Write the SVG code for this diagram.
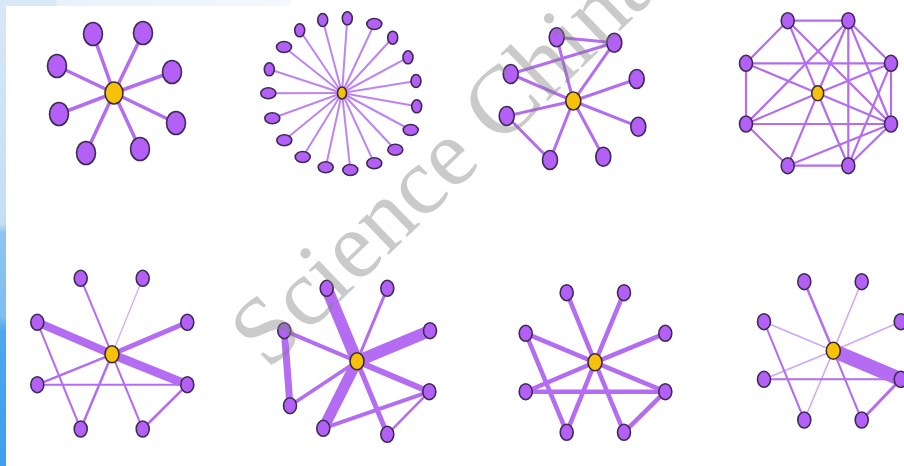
<svg xmlns="http://www.w3.org/2000/svg" width="904" height="466" viewBox="0 0 904 466">
<defs>
<linearGradient id="side" x1="0" y1="0" x2="0" y2="1">
<stop offset="0" stop-color="#d6e8f8"/>
<stop offset="0.48" stop-color="#c4def6"/>
<stop offset="0.5" stop-color="#8cc4f3"/>
<stop offset="0.68" stop-color="#7fbdf2"/>
<stop offset="0.71" stop-color="#4ca7ee"/>
<stop offset="1" stop-color="#3f9fec"/>
</linearGradient>
<linearGradient id="top" x1="0" y1="0" x2="1" y2="0">
<stop offset="0" stop-color="#d8e8f7"/>
<stop offset="0.19" stop-color="#d8e8f7"/>
<stop offset="0.2" stop-color="#e9f2fb"/>
<stop offset="1" stop-color="#f4f8fd"/>
</linearGradient>
</defs>
<style>
.e{stroke:#b36cf2;stroke-linecap:butt;fill:none}
.l{stroke:#cfa6f6}
.n{fill:#b45ff5;stroke:#3c2b52;stroke-width:1.6}
.c{fill:#f7c10a;stroke:#3c2b30;stroke-width:1.6}
.w1{stroke-width:3.5}.w2{stroke-width:2}.w3{stroke-width:4.5}
.wm{font-family:"Liberation Serif","Times New Roman",serif;font-size:96px;fill:#808080;fill-opacity:0.42}
</style>
<rect width="904" height="466" fill="#ffffff"/>
<rect x="0" y="0" width="290" height="6" fill="url(#top)"/>
<rect x="0" y="0" width="6" height="466" fill="url(#side)"/>

<!-- Graph 1 -->
<g id="graph1">
<g id="g1-edges" class="e w1">
<line x1="114" y1="93" x2="93" y2="34"/><line x1="114" y1="93" x2="143" y2="33"/>
<line x1="114" y1="93" x2="57" y2="66"/><line x1="114" y1="93" x2="172" y2="72"/>
<line x1="114" y1="93" x2="59" y2="114"/><line x1="114" y1="93" x2="176" y2="123"/>
<line x1="114" y1="93" x2="86" y2="153"/><line x1="114" y1="93" x2="140" y2="149"/>
</g>
<g id="g1-n1"><ellipse class="n" cx="93" cy="34" rx="9.5" ry="11.5"/></g>
<g id="g1-n2"><ellipse class="n" cx="143" cy="33" rx="9.5" ry="11.5"/></g>
<g id="g1-n3"><ellipse class="n" cx="57" cy="66" rx="9.5" ry="11.5"/></g>
<g id="g1-n4"><ellipse class="n" cx="172" cy="72" rx="9.5" ry="11.5"/></g>
<g id="g1-n5"><ellipse class="n" cx="59" cy="114" rx="9.5" ry="11.5"/></g>
<g id="g1-n6"><ellipse class="n" cx="176" cy="123" rx="9.5" ry="11.5"/></g>
<g id="g1-n7"><ellipse class="n" cx="86" cy="153" rx="9.5" ry="11.5"/></g>
<g id="g1-n8"><ellipse class="n" cx="140" cy="149" rx="9.5" ry="11.5"/></g>
<g id="g1-center"><ellipse class="c" cx="114" cy="93" rx="9" ry="11"/></g>
</g>

<!-- Graph 2 -->
<g id="graph2">
<g id="g2-edges" class="e w2" style="stroke:#bd84f3">
<line x1="342" y1="93" x2="322.7" y2="20"/><line x1="342" y1="93" x2="347.3" y2="18.3"/>
<line x1="342" y1="93" x2="374.3" y2="24"/><line x1="342" y1="93" x2="392.7" y2="37.7"/>
<line x1="342" y1="93" x2="408" y2="57.3"/><line x1="342" y1="93" x2="416" y2="81"/>
<line x1="342" y1="93" x2="416.7" y2="106.3"/><line x1="342" y1="93" x2="410.7" y2="130"/>
<line x1="342" y1="93" x2="395.3" y2="149.7"/><line x1="342" y1="93" x2="374.3" y2="163.3"/>
<line x1="342" y1="93" x2="350.3" y2="170"/><line x1="342" y1="93" x2="325.7" y2="167.3"/>
<line x1="342" y1="93" x2="302.7" y2="157"/><line x1="342" y1="93" x2="284.3" y2="140.3"/>
<line x1="342" y1="93" x2="272.3" y2="118.3"/><line x1="342" y1="93" x2="268.3" y2="93.3"/>
<line x1="342" y1="93" x2="269.3" y2="69.3"/><line x1="342" y1="93" x2="284" y2="47"/>
<line x1="342" y1="93" x2="299.7" y2="30.3"/>
</g>
<g id="g2-n1"><ellipse class="n" cx="322.7" cy="20" rx="5" ry="6.5"/></g>
<g id="g2-n2"><ellipse class="n" cx="347.3" cy="18.3" rx="5" ry="6.5"/></g>
<g id="g2-n3"><ellipse class="n" cx="374.3" cy="24" rx="7.5" ry="5.5"/></g>
<g id="g2-n4"><ellipse class="n" cx="392.7" cy="37.7" rx="5" ry="6.5"/></g>
<g id="g2-n5"><ellipse class="n" cx="408" cy="57.3" rx="5" ry="6.5"/></g>
<g id="g2-n6"><ellipse class="n" cx="416" cy="81" rx="5" ry="6.5"/></g>
<g id="g2-n7"><ellipse class="n" cx="416.7" cy="106.3" rx="5" ry="6.5"/></g>
<g id="g2-n8"><ellipse class="n" cx="410.7" cy="130" rx="7.5" ry="5.5"/></g>
<g id="g2-n9"><ellipse class="n" cx="395.3" cy="149.7" rx="7.5" ry="5.5"/></g>
<g id="g2-n10"><ellipse class="n" cx="374.3" cy="163.3" rx="7.5" ry="5.5"/></g>
<g id="g2-n11"><ellipse class="n" cx="350.3" cy="170" rx="7.5" ry="5.5"/></g>
<g id="g2-n12"><ellipse class="n" cx="325.7" cy="167.3" rx="7.5" ry="5.5"/></g>
<g id="g2-n13"><ellipse class="n" cx="302.7" cy="157" rx="7.5" ry="5.5"/></g>
<g id="g2-n14"><ellipse class="n" cx="284.3" cy="140.3" rx="7.5" ry="5.5"/></g>
<g id="g2-n15"><ellipse class="n" cx="272.3" cy="118.3" rx="7.5" ry="5.5"/></g>
<g id="g2-n16"><ellipse class="n" cx="268.3" cy="93.3" rx="7.5" ry="5.5"/></g>
<g id="g2-n17"><ellipse class="n" cx="269.3" cy="69.3" rx="5" ry="6.5"/></g>
<g id="g2-n18"><ellipse class="n" cx="284" cy="47" rx="7.5" ry="5.5"/></g>
<g id="g2-n19"><ellipse class="n" cx="299.7" cy="30.3" rx="5" ry="6.5"/></g>
<g id="g2-center"><ellipse class="c" cx="342" cy="93" rx="4.5" ry="6"/></g>
</g>

<!-- Graph 3 -->
<g id="graph3">
<g id="g3-edges" class="e" style="stroke-width:3">
<line x1="573.3" y1="101" x2="556.7" y2="37.3"/><line x1="573.3" y1="101" x2="614.3" y2="42.7"/>
<line x1="573.3" y1="101" x2="510.7" y2="74"/><line x1="573.3" y1="101" x2="636.7" y2="79"/>
<line x1="573.3" y1="101" x2="506.7" y2="116"/><line x1="573.3" y1="101" x2="638.3" y2="126.7"/>
<line x1="573.3" y1="101" x2="550" y2="160"/><line x1="573.3" y1="101" x2="603.3" y2="156.7"/>
<line x1="556.7" y1="37.3" x2="614.3" y2="42.7"/><line x1="510.7" y1="74" x2="614.3" y2="42.7"/>
<line x1="506.7" y1="116" x2="550" y2="160"/>
</g>
<g id="g3-n1"><ellipse class="n" cx="556.7" cy="37.3" rx="7.5" ry="9.5"/></g>
<g id="g3-n2"><ellipse class="n" cx="614.3" cy="42.7" rx="7.5" ry="9.5"/></g>
<g id="g3-n3"><ellipse class="n" cx="510.7" cy="74" rx="7.5" ry="9.5"/></g>
<g id="g3-n4"><ellipse class="n" cx="636.7" cy="79" rx="7.5" ry="9.5"/></g>
<g id="g3-n5"><ellipse class="n" cx="506.7" cy="116" rx="7.5" ry="9.5"/></g>
<g id="g3-n6"><ellipse class="n" cx="638.3" cy="126.7" rx="7.5" ry="9.5"/></g>
<g id="g3-n7"><ellipse class="n" cx="550" cy="160" rx="7.5" ry="9.5"/></g>
<g id="g3-n8"><ellipse class="n" cx="603.3" cy="156.7" rx="7.5" ry="9.5"/></g>
<g id="g3-center"><ellipse class="c" cx="573.3" cy="101" rx="7.5" ry="9"/></g>
</g>

<!-- Graph 4 -->
<g id="graph4">
<g id="g4-edges" class="e" style="stroke-width:2.2">
<line x1="787.7" y1="20.7" x2="848.3" y2="20.7"/><line x1="787.7" y1="20.7" x2="746" y2="63.3"/>
<line x1="746" y1="63.3" x2="746" y2="124"/><line x1="746" y1="124" x2="787.7" y2="165.7"/>
<line x1="787.7" y1="165.7" x2="848.3" y2="165.7"/><line x1="848.3" y1="165.7" x2="891" y2="124"/>
<line x1="891" y1="124" x2="891" y2="63.3"/><line x1="891" y1="63.3" x2="848.3" y2="20.7"/>
<line x1="746" y1="63.3" x2="891" y2="63.3"/><line x1="746" y1="124" x2="891" y2="124"/>
<line x1="848.3" y1="20.7" x2="848.3" y2="165.7"/>
<line x1="817.7" y1="93.3" x2="787.7" y2="20.7"/><line x1="817.7" y1="93.3" x2="848.3" y2="20.7"/>
<line x1="817.7" y1="93.3" x2="746" y2="63.3"/><line x1="817.7" y1="93.3" x2="891" y2="63.3"/>
<line x1="817.7" y1="93.3" x2="746" y2="124"/><line x1="817.7" y1="93.3" x2="891" y2="124"/>
<line x1="817.7" y1="93.3" x2="787.7" y2="165.7"/><line x1="817.7" y1="93.3" x2="848.3" y2="165.7"/>
<line x1="787.7" y1="20.7" x2="891" y2="124"/><line x1="848.3" y1="20.7" x2="746" y2="124"/>
<line x1="848.3" y1="20.7" x2="891" y2="124"/><line x1="891" y1="63.3" x2="848.3" y2="165.7"/>
<line x1="891" y1="124" x2="787.7" y2="165.7"/>
</g>
<g id="g4-n1"><ellipse class="n" cx="787.7" cy="20.7" rx="6.5" ry="8"/></g>
<g id="g4-n2"><ellipse class="n" cx="848.3" cy="20.7" rx="6.5" ry="8"/></g>
<g id="g4-n3"><ellipse class="n" cx="746" cy="63.3" rx="6.5" ry="8"/></g>
<g id="g4-n4"><ellipse class="n" cx="891" cy="63.3" rx="6.5" ry="8"/></g>
<g id="g4-n5"><ellipse class="n" cx="746" cy="124" rx="6.5" ry="8"/></g>
<g id="g4-n6"><ellipse class="n" cx="891" cy="124" rx="6.5" ry="8"/></g>
<g id="g4-n7"><ellipse class="n" cx="787.7" cy="165.7" rx="6.5" ry="8"/></g>
<g id="g4-n8"><ellipse class="n" cx="848.3" cy="165.7" rx="6.5" ry="8"/></g>
<g id="g4-center"><ellipse class="c" cx="817.7" cy="93.3" rx="6" ry="7.5"/></g>
</g>

<!-- Graph 5 -->
<g id="graph5">
<g id="g5-edges" class="e">
<line x1="112" y1="354.3" x2="80.7" y2="278.3" style="stroke-width:2"/>
<line x1="112" y1="354.3" x2="142.7" y2="278.3" class="l" style="stroke-width:1.2"/>
<line x1="112" y1="354.3" x2="37.3" y2="322.3" style="stroke-width:8"/>
<line x1="112" y1="354.3" x2="187.3" y2="322.3" style="stroke-width:5"/>
<line x1="112" y1="354.3" x2="37.3" y2="384.7" style="stroke-width:2.5"/>
<line x1="112" y1="354.3" x2="187.3" y2="384.7" style="stroke-width:9"/>
<line x1="112" y1="354.3" x2="80.7" y2="429" style="stroke-width:2.5"/>
<line x1="112" y1="354.3" x2="142.7" y2="429" style="stroke-width:2"/>
<line x1="37.3" y1="322.3" x2="80.7" y2="429" style="stroke-width:2"/>
<line x1="37.3" y1="384.7" x2="187.3" y2="384.7" style="stroke-width:2"/>
<line x1="187.3" y1="384.7" x2="142.7" y2="429" style="stroke-width:2.5"/>
</g>
<g id="g5-n1"><ellipse class="n" cx="80.7" cy="278.3" rx="6.5" ry="8"/></g>
<g id="g5-n2"><ellipse class="n" cx="142.7" cy="278.3" rx="6.5" ry="8"/></g>
<g id="g5-n3"><ellipse class="n" cx="37.3" cy="322.3" rx="6.5" ry="8"/></g>
<g id="g5-n4"><ellipse class="n" cx="187.3" cy="322.3" rx="6.5" ry="8"/></g>
<g id="g5-n5"><ellipse class="n" cx="37.3" cy="384.7" rx="6.5" ry="8"/></g>
<g id="g5-n6"><ellipse class="n" cx="187.3" cy="384.7" rx="6.5" ry="8"/></g>
<g id="g5-n7"><ellipse class="n" cx="80.7" cy="429" rx="6.5" ry="8"/></g>
<g id="g5-n8"><ellipse class="n" cx="142.7" cy="429" rx="6.5" ry="8"/></g>
<g id="g5-center"><ellipse class="c" cx="112" cy="354.3" rx="7" ry="8.5"/></g>
</g>

<!-- Graph 6 -->
<g id="graph6">
<g id="g6-edges" class="e">
<line x1="357" y1="361.3" x2="326.7" y2="288.3" style="stroke-width:12"/>
<line x1="357" y1="361.3" x2="387.3" y2="288.3" style="stroke-width:3"/>
<line x1="357" y1="361.3" x2="284.3" y2="330.7" style="stroke-width:4"/>
<line x1="357" y1="361.3" x2="430" y2="330.7" style="stroke-width:12"/>
<line x1="357" y1="361.3" x2="290" y2="405.7" style="stroke-width:3.5"/>
<line x1="357" y1="361.3" x2="429.3" y2="391.7" style="stroke-width:6"/>
<line x1="357" y1="361.3" x2="323.3" y2="428.3" style="stroke-width:11"/>
<line x1="357" y1="361.3" x2="387.3" y2="434.3" style="stroke-width:5"/>
<line x1="284.3" y1="330.7" x2="290" y2="405.7" style="stroke-width:7"/>
<line x1="323.3" y1="428.3" x2="429.3" y2="391.7" style="stroke-width:4"/>
<line x1="387.3" y1="434.3" x2="429.3" y2="391.7" style="stroke-width:2.5"/>
</g>
<g id="g6-n1"><ellipse class="n" cx="326.7" cy="288.3" rx="6.5" ry="8"/></g>
<g id="g6-n2"><ellipse class="n" cx="387.3" cy="288.3" rx="6.5" ry="8"/></g>
<g id="g6-n3"><ellipse class="n" cx="284.3" cy="330.7" rx="6.5" ry="8"/></g>
<g id="g6-n4"><ellipse class="n" cx="430" cy="330.7" rx="6.5" ry="8"/></g>
<g id="g6-n5"><ellipse class="n" cx="290" cy="405.7" rx="6.5" ry="8"/></g>
<g id="g6-n6"><ellipse class="n" cx="429.3" cy="391.7" rx="6.5" ry="8"/></g>
<g id="g6-n7"><ellipse class="n" cx="323.3" cy="428.3" rx="6.5" ry="8"/></g>
<g id="g6-n8"><ellipse class="n" cx="387.3" cy="434.3" rx="6.5" ry="8"/></g>
<g id="g6-center"><ellipse class="c" cx="357" cy="361.3" rx="7" ry="8.5"/></g>
</g>

<!-- Graph 7 -->
<g id="graph7">
<g id="g7-edges" class="e w3">
<line x1="595" y1="362.3" x2="566.7" y2="292.7"/><line x1="595" y1="362.3" x2="624" y2="292.7"/>
<line x1="595" y1="362.3" x2="525.7" y2="333.3"/><line x1="595" y1="362.3" x2="665.3" y2="333.3"/>
<line x1="595" y1="362.3" x2="525.7" y2="391.7"/><line x1="595" y1="362.3" x2="665.3" y2="391.7"/>
<line x1="595" y1="362.3" x2="566.7" y2="432.3"/><line x1="595" y1="362.3" x2="624" y2="432.3"/>
<line x1="525.7" y1="333.3" x2="566.7" y2="432.3"/><line x1="525.7" y1="391.7" x2="665.3" y2="391.7"/>
<line x1="665.3" y1="391.7" x2="624" y2="432.3"/>
</g>
<g id="g7-n1"><ellipse class="n" cx="566.7" cy="292.7" rx="6.5" ry="8"/></g>
<g id="g7-n2"><ellipse class="n" cx="624" cy="292.7" rx="6.5" ry="8"/></g>
<g id="g7-n3"><ellipse class="n" cx="525.7" cy="333.3" rx="6.5" ry="8"/></g>
<g id="g7-n4"><ellipse class="n" cx="665.3" cy="333.3" rx="6.5" ry="8"/></g>
<g id="g7-n5"><ellipse class="n" cx="525.7" cy="391.7" rx="6.5" ry="8"/></g>
<g id="g7-n6"><ellipse class="n" cx="665.3" cy="391.7" rx="6.5" ry="8"/></g>
<g id="g7-n7"><ellipse class="n" cx="566.7" cy="432.3" rx="6.5" ry="8"/></g>
<g id="g7-n8"><ellipse class="n" cx="624" cy="432.3" rx="6.5" ry="8"/></g>
<g id="g7-center"><ellipse class="c" cx="595" cy="362.3" rx="7" ry="8.5"/></g>
</g>

<!-- Graph 8 -->
<g id="graph8">
<g id="g8-edges" class="e">
<line x1="833.3" y1="350.7" x2="804.3" y2="281.7" style="stroke-width:2.5"/>
<line x1="833.3" y1="350.7" x2="861.7" y2="281.7" class="l" style="stroke-width:1.5"/>
<line x1="833.3" y1="350.7" x2="764" y2="321.7" class="l" style="stroke-width:1.5"/>
<line x1="833.3" y1="350.7" x2="900.7" y2="321.7" class="l" style="stroke-width:1.5"/>
<line x1="833.3" y1="350.7" x2="764" y2="379.3" class="l" style="stroke-width:1.5"/>
<line x1="833.3" y1="350.7" x2="900.7" y2="379.3" style="stroke-width:14"/>
<line x1="833.3" y1="350.7" x2="804.3" y2="420" class="l" style="stroke-width:1.5"/>
<line x1="833.3" y1="350.7" x2="861.7" y2="420" style="stroke-width:2"/>
<line x1="764" y1="321.7" x2="804.3" y2="420" style="stroke-width:2"/>
<line x1="764" y1="379.3" x2="900.7" y2="379.3" style="stroke-width:2"/>
<line x1="900.7" y1="379.3" x2="861.7" y2="420" style="stroke-width:3"/>
</g>
<g id="g8-n1"><ellipse class="n" cx="804.3" cy="281.7" rx="6.5" ry="8"/></g>
<g id="g8-n2"><ellipse class="n" cx="861.7" cy="281.7" rx="6.5" ry="8"/></g>
<g id="g8-n3"><ellipse class="n" cx="764" cy="321.7" rx="6.5" ry="8"/></g>
<g id="g8-n4"><ellipse class="n" cx="900.7" cy="321.7" rx="6.5" ry="8"/></g>
<g id="g8-n5"><ellipse class="n" cx="764" cy="379.3" rx="6.5" ry="8"/></g>
<g id="g8-n6"><ellipse class="n" cx="900.7" cy="379.3" rx="6.5" ry="8"/></g>
<g id="g8-n7"><ellipse class="n" cx="804.3" cy="420" rx="6.5" ry="8"/></g>
<g id="g8-n8"><ellipse class="n" cx="861.7" cy="420" rx="6.5" ry="8"/></g>
<g id="g8-center"><ellipse class="c" cx="833.3" cy="350.7" rx="7" ry="8.5"/></g>
</g>

<text class="wm" x="268" y="371" transform="rotate(-44 268 371)">Science China</text>
</svg>
